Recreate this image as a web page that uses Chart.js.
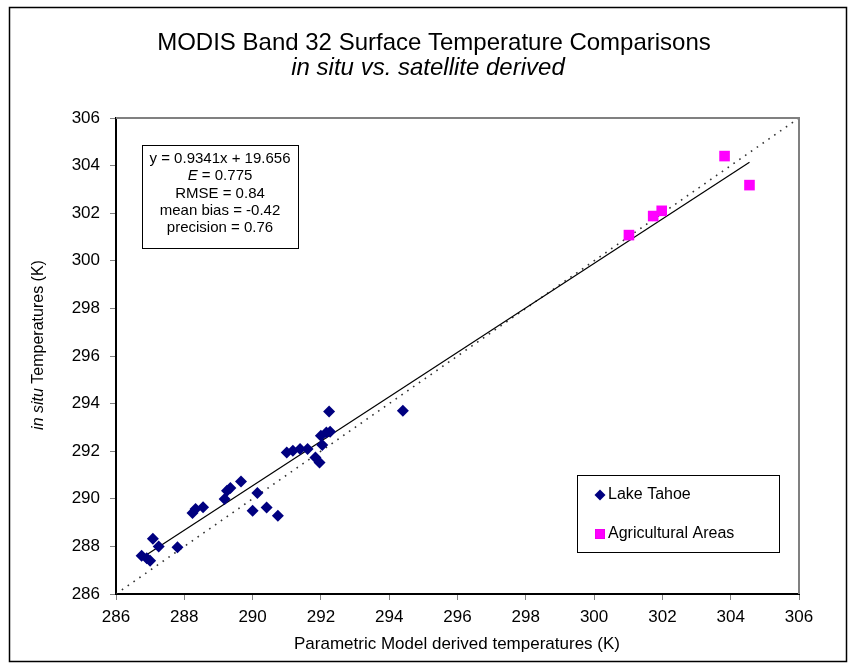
<!DOCTYPE html>
<html>
<head>
<meta charset="utf-8">
<title>MODIS Band 32 Surface Temperature Comparisons</title>
<script src="https://cdn.jsdelivr.net/npm/chart.js@4.4.1/dist/chart.umd.min.js"></script>
<style>
  html, body { margin: 0; padding: 0; background: #fff; }
  canvas { display: block; }
</style>
</head>
<body>
<canvas id="c" width="853" height="668"></canvas>
<script>
// Lake Tahoe: parametric model temperature (x) vs in situ temperature (y), K
const tahoeModel = [286.75, 286.9, 287.0, 287.08, 287.25, 287.8, 288.24, 288.33, 288.55,
  289.18, 289.25, 289.35, 289.66, 290.0, 290.14, 290.41, 290.74,
  291.0, 291.18, 291.39, 291.61, 291.84, 291.96, 292.04, 292.0, 292.16, 292.27, 292.24, 294.4];
const tahoeInSitu = [287.61, 287.5, 287.4, 288.32, 288.0, 287.96, 289.4, 289.57, 289.64,
  289.99, 290.34, 290.45, 290.73, 289.5, 290.24, 289.63, 289.29,
  291.95, 292.02, 292.09, 292.09, 291.74, 291.53, 292.26, 292.65, 292.79, 292.82, 293.67, 293.7];

// Agricultural areas
const agModel = [301.02, 301.73, 301.98, 303.82, 304.55];
const agInSitu = [301.08, 301.88, 302.1, 304.4, 303.18];

// Axis ticks (both axes)
const tickValues = [286, 288, 290, 292, 294, 296, 298, 300, 302, 304, 306];

// Least-squares fit and statistics
const fitSlope = 0.9341;
const fitIntercept = 19.656;
const statLines = ['y = 0.9341x + 19.656', 'E = 0.775', 'RMSE = 0.84', 'mean bias = -0.42', 'precision = 0.76'];

const FONT = '"Liberation Sans", Arial, sans-serif';

const toPoints = (xs, ys) => xs.map((x, i) => ({ x: x, y: ys[i] }));
const allX = tahoeModel.concat(agModel);
const xMin = Math.min(...allX), xMax = Math.max(...allX);
const fitLine = [xMin, xMax].map(x => ({ x: x, y: fitSlope * x + fitIntercept }));
const oneToOne = [{ x: tickValues[0], y: tickValues[0] }, { x: tickValues[tickValues.length - 1], y: tickValues[tickValues.length - 1] }];

const decorations = {
  id: 'decorations',
  afterDraw(chart) {
    const ctx = chart.ctx;
    const a = chart.chartArea;
    ctx.save();
    // outer frame
    ctx.strokeStyle = '#000';
    ctx.lineWidth = 1.5;
    ctx.strokeRect(9.5, 7.5, 837, 654);
    // top and right plot border
    ctx.strokeStyle = '#808080';
    ctx.lineWidth = 2;
    ctx.beginPath();
    ctx.moveTo(a.left, a.top);
    ctx.lineTo(a.right, a.top);
    ctx.lineTo(a.right, a.bottom);
    ctx.stroke();

    // titles
    ctx.fillStyle = '#000';
    ctx.textAlign = 'center';
    ctx.textBaseline = 'middle';
    ctx.font = '24px ' + FONT;
    ctx.fillText('MODIS Band 32 Surface Temperature Comparisons', 434, 43);
    ctx.font = 'italic 24px ' + FONT;
    ctx.fillText('in situ vs. satellite derived', 428, 68);

    // x axis title
    ctx.font = '17px ' + FONT;
    ctx.fillText('Parametric Model derived temperatures (K)', 457, 644);

    // y axis title: italic "in situ" + regular remainder
    ctx.save();
    ctx.translate(39, 345);
    ctx.rotate(-Math.PI / 2);
    const p1 = 'in situ', p2 = ' Temperatures (K)';
    ctx.font = 'italic 16px ' + FONT;
    const w1 = ctx.measureText(p1).width;
    ctx.font = '16px ' + FONT;
    const w2 = ctx.measureText(p2).width;
    let sx = -(w1 + w2) / 2;
    ctx.textAlign = 'left';
    ctx.font = 'italic 16px ' + FONT;
    ctx.fillText(p1, sx, 0);
    ctx.font = '16px ' + FONT;
    ctx.fillText(p2, sx + w1, 0);
    ctx.restore();

    // statistics box
    ctx.fillStyle = '#fff';
    ctx.fillRect(142, 145, 156, 103);
    ctx.strokeStyle = '#000';
    ctx.lineWidth = 1;
    ctx.strokeRect(142.5, 145.5, 156, 103);
    ctx.fillStyle = '#000';
    ctx.textAlign = 'center';
    statLines.forEach((s, i) => {
      const y = 159 + i * 17.3;
      if (s.startsWith('E ')) {
        ctx.font = 'italic 15px ' + FONT;
        const we = ctx.measureText('E').width;
        ctx.font = '15px ' + FONT;
        const rest = ' = 0.775';
        const wr = ctx.measureText(rest).width;
        const start = 220 - (we + wr) / 2;
        ctx.textAlign = 'left';
        ctx.font = 'italic 15px ' + FONT;
        ctx.fillText('E', start, y);
        ctx.font = '15px ' + FONT;
        ctx.fillText(rest, start + we, y);
        ctx.textAlign = 'center';
      } else {
        ctx.font = '15px ' + FONT;
        ctx.fillText(s, 220, y);
      }
    });

    // legend box
    ctx.fillStyle = '#fff';
    ctx.fillRect(577, 475, 202, 77);
    ctx.strokeStyle = '#000';
    ctx.strokeRect(577.5, 475.5, 202, 77);
    chart.data.datasets.slice(0, 2).forEach((ds, i) => {
      const y = i === 0 ? 495 : 534;
      Chart.helpers.drawPoint(ctx, {
        pointStyle: ds.pointStyle,
        radius: i === 0 ? 5.5 : 7,
        borderWidth: 0
      }, 600, y);
      ctx.fillStyle = ds.backgroundColor;
      ctx.fill();
      ctx.fillStyle = '#000';
      ctx.textAlign = 'left';
      ctx.font = '16px ' + FONT;
      ctx.fillText(ds.label, 608, y);
    });
    ctx.restore();
  }
};

new Chart(document.getElementById('c'), {
  type: 'scatter',
  data: {
    datasets: [
      {
        label: 'Lake Tahoe',
        data: toPoints(tahoeModel, tahoeInSitu),
        pointStyle: 'rectRot',
        pointRadius: 6,
        pointHoverRadius: 6,
        backgroundColor: '#000080',
        borderColor: '#000080',
        borderWidth: 0,
        order: 0
      },
      {
        label: 'Agricultural Areas',
        data: toPoints(agModel, agInSitu),
        pointStyle: 'rect',
        pointRadius: 7.5,
        pointHoverRadius: 7.5,
        backgroundColor: '#ff00ff',
        borderColor: '#ff00ff',
        borderWidth: 0,
        order: 0
      },
      {
        label: 'fit',
        type: 'line',
        data: fitLine,
        borderColor: '#000',
        borderWidth: 1.2,
        pointRadius: 0,
        fill: false,
        order: 2
      },
      {
        label: '1:1',
        type: 'line',
        data: oneToOne,
        borderColor: '#333',
        borderWidth: 1.6,
        borderDash: [1.6, 5.5],
        pointRadius: 0,
        fill: false,
        order: 3
      }
    ]
  },
  options: {
    responsive: false,
    animation: false,
    devicePixelRatio: 1,
    events: [],
    layout: { padding: { top: 118, right: 54, left: 0, bottom: 0 } },
    plugins: {
      legend: { display: false },
      title: { display: false },
      tooltip: { enabled: false }
    },
    scales: {
      x: {
        type: 'linear',
        min: tickValues[0],
        max: tickValues[tickValues.length - 1],
        afterBuildTicks: s => { s.ticks = tickValues.map(v => ({ value: v })); },
        afterFit: s => { s.height = 74; },
        grid: { drawOnChartArea: false, drawTicks: true, tickLength: 6, color: '#808080', lineWidth: 1 },
        border: { display: true, color: '#000', width: 2 },
        ticks: { color: '#000', font: { family: FONT, size: 17 }, padding: 7, maxRotation: 0 }
      },
      y: {
        type: 'linear',
        min: tickValues[0],
        max: tickValues[tickValues.length - 1],
        afterBuildTicks: s => { s.ticks = tickValues.map(v => ({ value: v })); },
        afterFit: s => { s.width = 116; },
        grid: { drawOnChartArea: false, drawTicks: true, tickLength: 6, color: '#808080', lineWidth: 1 },
        border: { display: true, color: '#000', width: 2 },
        ticks: { color: '#000', font: { family: FONT, size: 17 }, padding: 10 }
      }
    }
  },
  plugins: [decorations]
});
</script>
</body>
</html>
